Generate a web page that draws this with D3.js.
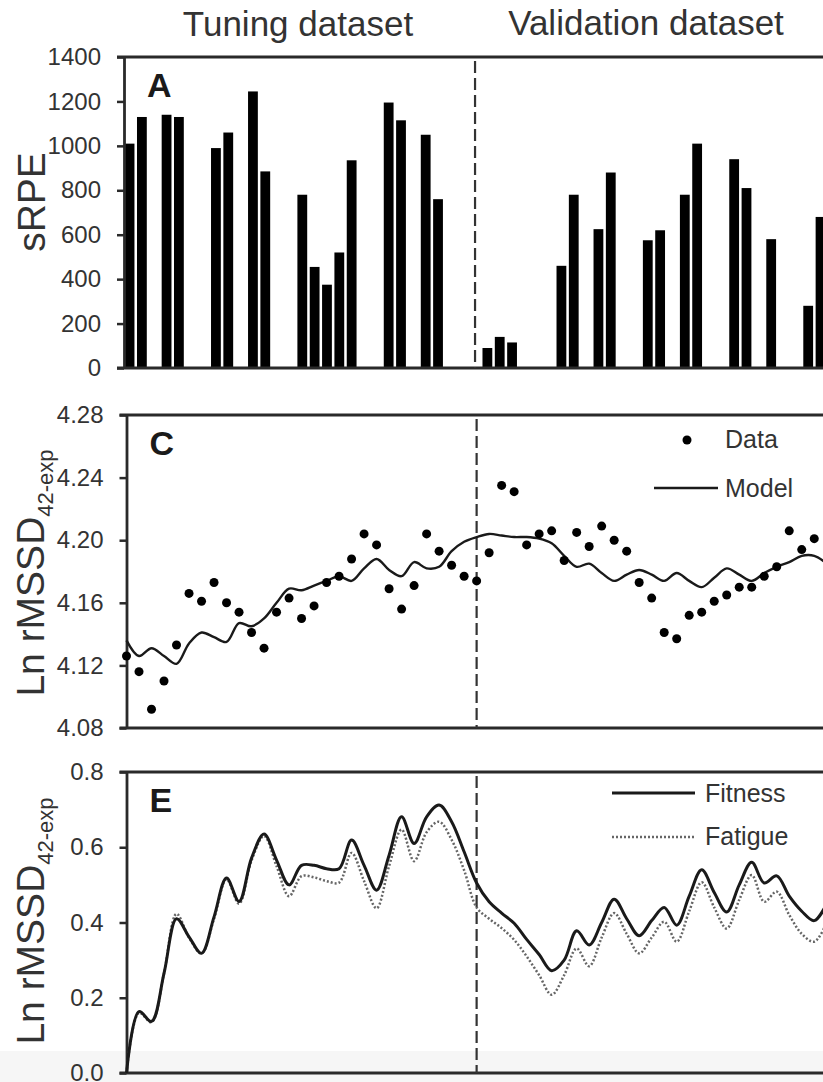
<!DOCTYPE html>
<html>
<head>
<meta charset="utf-8">
<script src="https://cdn.jsdelivr.net/npm/d3@7.9.0/dist/d3.min.js"></script>
<style>
  body { margin: 0; background: #fff; }
  svg { display: block; font-family: 'Liberation Sans', Arial, sans-serif; }
</style>
</head>
<body>
<svg id="chart" width="823" height="1082"></svg>
<script>
// sRPE bars (day number, load), tuning block then validation block
const tuningDays = [1, 2, 4, 5, 8, 9, 11, 12, 15, 16, 17, 18, 19, 22, 23, 25, 26];
const tuningLoad = [1010, 1130, 1140, 1130, 990, 1060, 1245, 885, 780, 455, 375, 520, 935, 1195, 1115, 1050, 760];
const validDays = [30, 31, 32, 36, 37, 39, 40, 43, 44, 46, 47, 50, 51, 53, 56, 57];
const validLoad = [90, 140, 115, 460, 780, 625, 880, 575, 620, 780, 1010, 940, 810, 580, 280, 680];
const splitDay = 29;

// panel C, one value per day starting at day 1
const hrvData = [4.126, 4.116, 4.092, 4.110, 4.133, 4.166, 4.161, 4.173, 4.160, 4.154,
  4.141, 4.131, 4.154, 4.163, 4.150, 4.158, 4.173, 4.177, 4.188, 4.204,
  4.197, 4.169, 4.156, 4.171, 4.204, 4.193, 4.184, 4.177, 4.174, 4.192,
  4.235, 4.231, 4.197, 4.204, 4.206, 4.187, 4.205, 4.196, 4.209, 4.200,
  4.193, 4.173, 4.163, 4.141, 4.137, 4.152, 4.154, 4.161, 4.165, 4.170,
  4.170, 4.177, 4.183, 4.206, 4.194, 4.201];
const hrvModel = [4.136, 4.126, 4.131, 4.126, 4.121, 4.134, 4.141, 4.138, 4.135, 4.147,
  4.145, 4.150, 4.160, 4.169, 4.168, 4.171, 4.174, 4.177, 4.174, 4.182,
  4.188, 4.181, 4.177, 4.186, 4.182, 4.183, 4.193, 4.199, 4.202, 4.204,
  4.203, 4.202, 4.202, 4.201, 4.198, 4.190, 4.183, 4.185, 4.179, 4.174,
  4.178, 4.181, 4.178, 4.174, 4.179, 4.174, 4.170, 4.176, 4.182, 4.178,
  4.174, 4.179, 4.183, 4.186, 4.190, 4.190, 4.185];

// panel E, one value per day starting at day 1
const fitness = [0.0, 0.163, 0.137, 0.265, 0.41, 0.362, 0.318, 0.415, 0.518, 0.456,
  0.571, 0.635, 0.566, 0.50, 0.552, 0.552, 0.543, 0.543, 0.619, 0.552,
  0.486, 0.579, 0.681, 0.610, 0.681, 0.712, 0.668, 0.588, 0.505, 0.455,
  0.425, 0.398, 0.355, 0.315, 0.272, 0.30, 0.378, 0.34, 0.40, 0.462,
  0.41, 0.365, 0.405, 0.44, 0.393, 0.47, 0.54, 0.48, 0.428, 0.50,
  0.56, 0.505, 0.524, 0.47, 0.43, 0.405, 0.45];
const fatigue = [0.0, 0.16, 0.135, 0.265, 0.423, 0.36, 0.318, 0.41, 0.515, 0.45,
  0.565, 0.63, 0.55, 0.47, 0.523, 0.52, 0.51, 0.506, 0.585, 0.51,
  0.438, 0.55, 0.647, 0.563, 0.64, 0.668, 0.62, 0.539, 0.44, 0.41,
  0.385, 0.354, 0.31, 0.26, 0.208, 0.26, 0.331, 0.284, 0.36, 0.425,
  0.37, 0.318, 0.36, 0.402, 0.349, 0.43, 0.507, 0.44, 0.384, 0.46,
  0.526, 0.455, 0.482, 0.42, 0.37, 0.349, 0.40];

const W = 823;
const ink = '#1a1a1a';
const svg = d3.select('#chart');

// faint grey strip along the bottom edge of the scan
svg.append('rect').attr('x', 0).attr('y', 1051).attr('width', W).attr('height', 31).attr('fill', '#f6f6f6');

const xA = d3.scaleLinear().domain([0.55, 57.2]).range([124, 823]);
const xC = d3.scaleLinear().domain([1, 56.7]).range([126.5, 823]);

const yA = d3.scaleLinear().domain([0, 1400]).range([368, 57]);
const yC = d3.scaleLinear().domain([4.08, 4.28]).range([728, 415]);
const yE = d3.scaleLinear().domain([0, 0.8]).range([1073, 772]);

function panel(x, y, ticks, fmt, letter) {
  let [bottom, top] = y.range();
  let left = x.range()[0];
  let g = svg.append('g')
    .attr('transform', `translate(${left},0)`)
    .call(d3.axisLeft(y).tickValues(ticks).tickFormat(fmt)
      .tickSize(7).tickSizeOuter(0).tickPadding(16));
  g.select('.domain').attr('stroke', '#2a2a2a').attr('stroke-width', 2.8);
  g.selectAll('.tick line').attr('stroke', '#2a2a2a').attr('stroke-width', 2.5);
  g.selectAll('text')
    .attr('font-size', 24)
    .attr('fill', '#333')
    .style('font-family', "'Liberation Sans', Arial, sans-serif");

  // top and bottom frame lines, the right side is cut off by the page
  [top, bottom].forEach((yy) => {
    svg.append('line')
      .attr('x1', left - 7).attr('x2', W + 10)
      .attr('y1', yy).attr('y2', yy)
      .attr('stroke', '#2a2a2a').attr('stroke-width', 2.8);
  });

  // dashed line between tuning and validation data
  svg.append('line')
    .attr('x1', x(splitDay)).attr('x2', x(splitDay))
    .attr('y1', top + 4).attr('y2', bottom)
    .attr('stroke', '#333').attr('stroke-width', 2.2)
    .attr('stroke-dasharray', '12,5');

  svg.append('text')
    .attr('x', left + 23).attr('y', top + 40)
    .attr('font-size', 34).attr('font-weight', 'bold').attr('fill', ink)
    .text(letter);
}

function yLabel(cx, cy, main, sub) {
  let t = svg.append('text')
    .attr('transform', `translate(${cx},${cy}) rotate(-90)`)
    .attr('text-anchor', 'middle')
    .attr('fill', '#333');
  t.append('tspan').attr('font-size', 39).text(main);
  if (sub) t.append('tspan').attr('font-size', 22).attr('dy', 9).text(sub);
}

// titles
svg.append('text').attr('x', 298).attr('y', 36).attr('text-anchor', 'middle')
  .attr('font-size', 35).attr('fill', '#333').text('Tuning dataset');
svg.append('text').attr('x', 646).attr('y', 35).attr('text-anchor', 'middle')
  .attr('font-size', 35).attr('fill', '#333').text('Validation dataset');

// ---- panel A: sRPE bars
const bars = tuningDays.map((d, i) => ({ day: d, value: tuningLoad[i] }))
  .concat(validDays.map((d, i) => ({ day: d, value: validLoad[i] })));
const bw = 9.8;
svg.append('g').selectAll('rect')
  .data(bars)
  .join('rect')
  .attr('x', (d) => xA(d.day) - bw / 2)
  .attr('width', bw)
  .attr('y', (d) => yA(d.value))
  .attr('height', (d) => yA(0) - yA(d.value))
  .attr('fill', '#000');
panel(xA, yA, d3.range(0, 1401, 200), d3.format('d'), 'A');
yLabel(45, 202, 'sRPE');

// ---- panel C: Ln rMSSD data and model
panel(xC, yC, [4.08, 4.12, 4.16, 4.20, 4.24, 4.28], d3.format('.2f'), 'C');
yLabel(44, 573, 'Ln rMSSD', '42-exp');

const lineC = d3.line()
  .x((d, i) => xC(i + 1))
  .y((d) => yC(d))
  .curve(d3.curveCatmullRom);
svg.append('path')
  .attr('d', lineC(hrvModel))
  .attr('fill', 'none').attr('stroke', ink).attr('stroke-width', 2.4);
svg.append('g').selectAll('circle')
  .data(hrvData)
  .join('circle')
  .attr('cx', (d, i) => xC(i + 1))
  .attr('cy', (d) => yC(d))
  .attr('r', 4.5)
  .attr('fill', '#000');

// legend C
svg.append('circle').attr('cx', 687).attr('cy', 440).attr('r', 4.5).attr('fill', '#000');
svg.append('text').attr('x', 725).attr('y', 448).attr('font-size', 25).attr('fill', '#333').text('Data');
svg.append('line').attr('x1', 654).attr('x2', 718).attr('y1', 488).attr('y2', 488)
  .attr('stroke', ink).attr('stroke-width', 2.4);
svg.append('text').attr('x', 725).attr('y', 497).attr('font-size', 25).attr('fill', '#333').text('Model');

// ---- panel E: fitness and fatigue
panel(xC, yE, [0, 0.2, 0.4, 0.6, 0.8], d3.format('.1f'), 'E');
yLabel(44, 921, 'Ln rMSSD', '42-exp');

const lineE = d3.line()
  .x((d, i) => xC(i + 1))
  .y((d) => yE(d))
  .curve(d3.curveCatmullRom);
svg.append('path')
  .attr('d', lineE(fatigue))
  .attr('fill', 'none').attr('stroke', '#666').attr('stroke-width', 2.5)
  .attr('stroke-dasharray', '2,2');
svg.append('path')
  .attr('d', lineE(fitness))
  .attr('fill', 'none').attr('stroke', ink).attr('stroke-width', 3);

// legend E
svg.append('line').attr('x1', 612).attr('x2', 695).attr('y1', 793).attr('y2', 793)
  .attr('stroke', ink).attr('stroke-width', 3);
svg.append('text').attr('x', 705).attr('y', 802).attr('font-size', 25).attr('fill', '#333').text('Fitness');
svg.append('line').attr('x1', 612).attr('x2', 695).attr('y1', 837).attr('y2', 837)
  .attr('stroke', '#666').attr('stroke-width', 2.5).attr('stroke-dasharray', '2,2');
svg.append('text').attr('x', 705).attr('y', 845).attr('font-size', 25).attr('fill', '#333').text('Fatigue');
</script>
</body>
</html>
